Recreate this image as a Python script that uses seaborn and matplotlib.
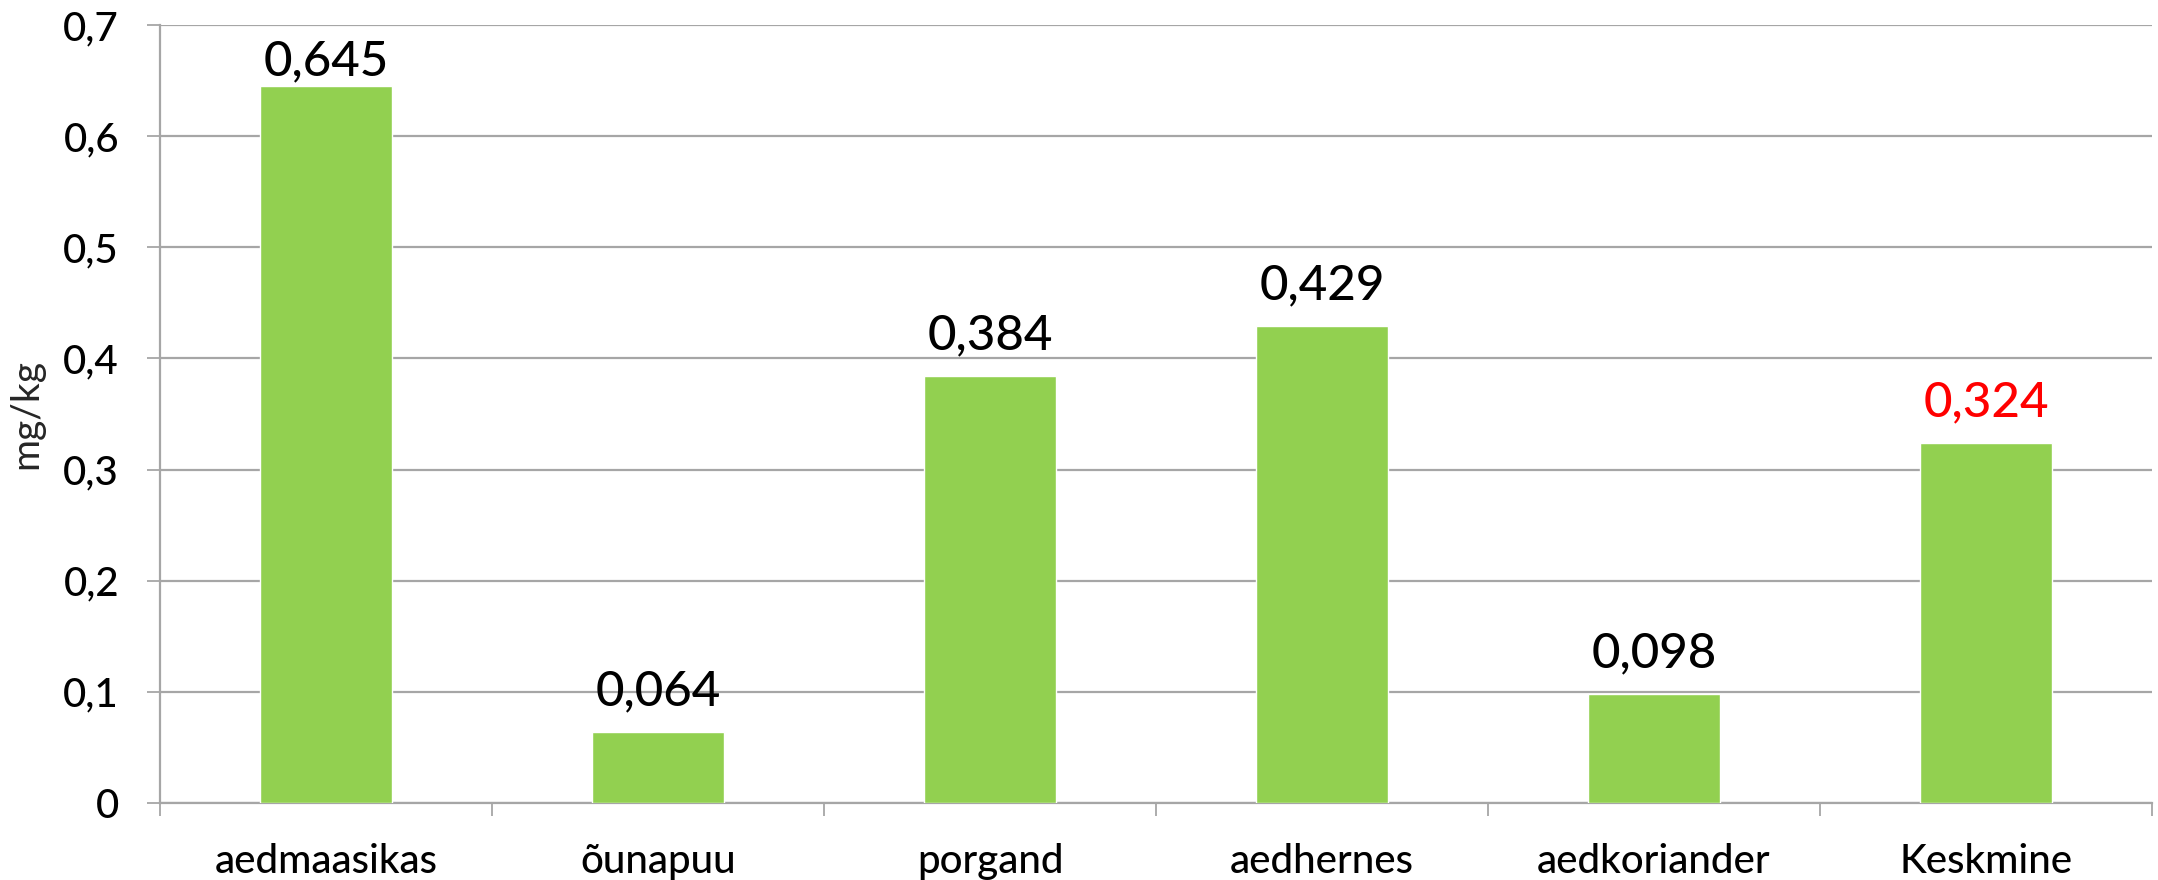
import matplotlib
matplotlib.use("Agg")
import matplotlib.pyplot as plt
from matplotlib.ticker import FixedLocator, FuncFormatter
import pandas as pd
import seaborn as sns

categories = ["aedmaasikas", "õunapuu", "porgand", "aedhernes", "aedkoriander", "Keskmine"]
values = [0.645, 0.064, 0.384, 0.429, 0.098, 0.324]
label_colors = ["black", "black", "black", "black", "black", "#FF0000"]
y_ticks = [0, 0.1, 0.2, 0.3, 0.4, 0.5, 0.6, 0.7]
y_label = "mg/kg"

sns.set_theme(style="white")
plt.rcParams["font.family"] = ["Lato", "DejaVu Sans"]
plt.rcParams["font.weight"] = "medium"

df = pd.DataFrame({"kategooria": categories, "väärtus": values})

DPI = 100
fig = plt.figure(figsize=(21.58, 8.8), dpi=DPI)
ax_box = [160 / 2158, 1 - 803 / 880, (2152 - 160) / 2158, (803 - 25) / 880]
ax = fig.add_axes(ax_box)

sns.barplot(data=df, x="kategooria", y="väärtus", color="#92D050",
            width=0.4, saturation=1, ax=ax, zorder=3)

ymax = 0.7
ax.set_xlim(-0.5, len(categories) - 0.5)
ax.set_ylim(0, ymax)

# gridlines and y ticks
ax.yaxis.set_major_locator(FixedLocator(y_ticks))
ax.yaxis.set_major_formatter(FuncFormatter(
    lambda v, _: "0" if v == 0 else f"{v:.1f}".replace(".", ",")))
ax.grid(axis="y", color="#A6A6A6", linewidth=1.6, zorder=0)
ax.grid(axis="x", visible=False)
ax.tick_params(axis="y", which="major", left=True, length=9.5, width=1.3,
               color="#A6A6A6", pad=20, labelsize=29, labelcolor="black")

# category labels centred, ticks at category boundaries
ax.set_xticks(range(len(categories)))
ax.set_xticklabels(categories)
ax.set_xticks([i - 0.5 for i in range(len(categories) + 1)], minor=True)
ax.tick_params(axis="x", which="major", length=0, pad=29, labelsize=29, labelcolor="black")
ax.tick_params(axis="x", which="minor", bottom=True, length=9.5, width=1.3, color="#A6A6A6")

for side in ["top", "right"]:
    ax.spines[side].set_visible(False)
for side in ["left", "bottom"]:
    ax.spines[side].set_color("#A6A6A6")
    ax.spines[side].set_linewidth(1.6)

ax.set_xlabel("")
ax.set_ylabel(y_label, fontsize=28, labelpad=14)

# value labels above bars; a label that would run past the top is tucked closer to its bar
bars = ax.containers[0]
texts = ax.bar_label(bars, labels=[f"{v:.3f}".replace(".", ",") for v in values],
                     padding=13.5, fontsize=35.5)
pt_per_unit = ax_box[3] * 8.8 * 72 / ymax
label_block = 42
for t, c, v in zip(texts, label_colors, values):
    t.set_color(c)
    pad = min(13.5, (ymax - v) * pt_per_unit - label_block)
    t.xyann = (0, pad)

fig.savefig("out.png", dpi=DPI, facecolor="white")
